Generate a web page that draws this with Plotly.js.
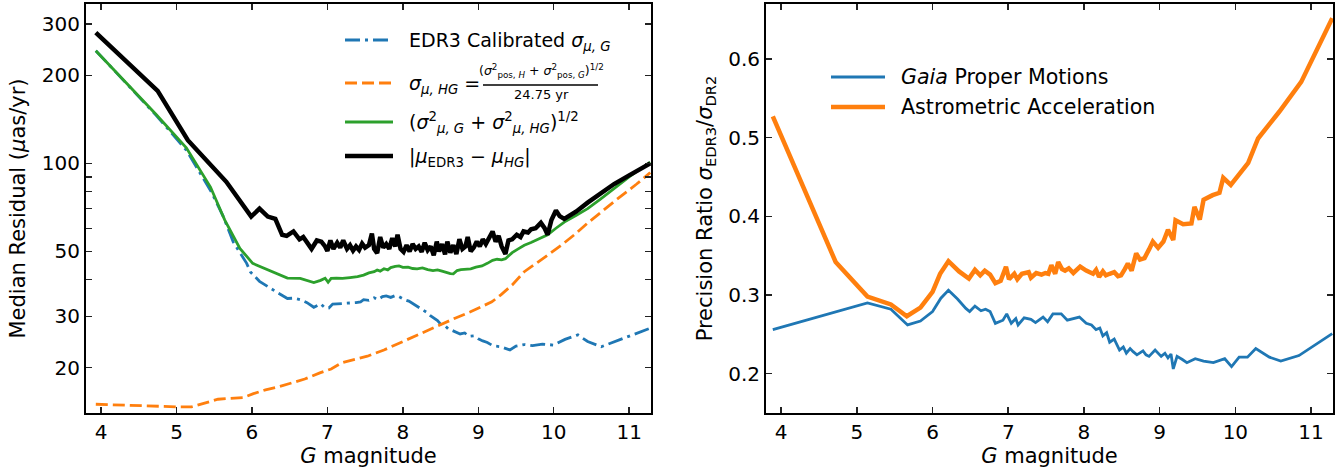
<!DOCTYPE html>
<html>
<head>
<meta charset="utf-8">
<script src="https://cdn.plot.ly/plotly-3.0.1.min.js"></script>
<style>html,body{margin:0;padding:0;background:#fff;}#chart{width:1343px;height:470px;}</style>
</head>
<body>
<div id="chart"></div>
<script>
// ---------- Left panel data (G magnitude vs median residual, µas/yr) ----------
const blackX = [3.93,4.75,5.15,5.66,5.99,6.10,6.21,6.31,6.40,6.46,6.55,6.63,6.68,6.74,6.79,6.86,6.92,6.97,7.00,7.04,7.08,7.13,7.17,7.21,7.26,7.30,7.34,7.38,7.42,7.46,7.50,7.55,7.59,7.62,7.66,7.70,7.74,7.78,7.82,7.86,7.90,7.93,7.97,8.01,8.05,8.09,8.13,8.17,8.21,8.25,8.29,8.33,8.37,8.41,8.45,8.48,8.52,8.56,8.59,8.63,8.67,8.71,8.75,8.79,8.83,8.86,8.90,8.94,8.98,9.02,9.06,9.10,9.15,9.19,9.23,9.27,9.31,9.36,9.40,9.45,9.51,9.56,9.60,9.66,9.70,9.76,9.83,9.88,9.92,9.97,10.03,10.08,10.14,10.30,10.45,10.62,10.80,11.00,11.28];
const blackY = [280,177,120,86.5,65.8,70,65.8,64.6,57,56.5,58.5,55,56,53,51,54.5,54,52,50.2,54.5,51,53.5,51.5,54.5,51,52.5,50.3,52,50.6,53.2,51.5,52.5,57.5,51,49.3,56,51.5,53,51,55.5,52,57,51,49.8,52.5,50,53,51,52,49.8,53.5,50.5,52,48.5,54,50,53,48.8,54,49.5,52.5,49,55,51,52,56,50,51.5,54,52,55,53,56.5,58.5,54,56.5,52,49,54.5,55,57,56,58.5,58,59.5,60,62.6,60,57,64,69,66,64.6,68.5,73.4,78.5,85,91,100];

const greenX = [3.93,4.73,5.13,5.45,5.64,5.84,6.01,6.20,6.47,6.64,6.73,6.82,6.91,6.97,7.01,7.05,7.12,7.20,7.30,7.40,7.48,7.55,7.62,7.66,7.70,7.75,7.80,7.84,7.90,7.95,8.00,8.07,8.13,8.19,8.26,8.33,8.40,8.46,8.52,8.57,8.63,8.67,8.72,8.77,8.84,8.90,8.97,9.05,9.12,9.19,9.25,9.31,9.36,9.45,9.53,9.61,9.70,9.79,9.86,9.92,10.03,10.14,10.30,10.45,10.62,10.80,11.00,11.28];
const greenY = [243,147,113,83,64,51.2,45.5,43.3,40.5,40.4,39.8,39.1,39.8,40.5,39.2,40.4,40.5,40.4,40.7,41.0,41.5,42.2,42.6,43.2,42.8,43.6,43.2,44.0,44.4,44.6,44.1,44.2,43.7,43.6,43.9,43.3,43.0,43.2,42.8,42.4,42.0,41.9,43.0,43.3,43.5,43.6,44.2,44.6,45.5,46.6,47,46.8,47.2,49.5,51,52.5,53.6,55,56,57,60,63,66.5,70,75.5,82,90,101];

const blueX = [3.93,4.73,5.13,5.46,5.62,5.75,5.93,5.98,6.10,6.24,6.35,6.47,6.56,6.64,6.73,6.82,6.88,6.91,6.96,7.02,7.07,7.12,7.20,7.30,7.38,7.44,7.48,7.55,7.62,7.67,7.73,7.78,7.84,7.90,7.95,8.02,8.08,8.14,8.19,8.25,8.31,8.36,8.41,8.46,8.50,8.55,8.60,8.64,8.70,8.76,8.82,8.88,8.94,9.00,9.06,9.12,9.18,9.23,9.30,9.36,9.42,9.50,9.61,9.72,9.85,10.00,10.15,10.32,10.45,10.63,10.85,11.05,11.28];
const blueY = [243,146,111,80,65.8,54,45.5,42.5,39.5,37.4,36,34.5,34.6,34.2,33.4,32.2,32.8,33.1,32.2,32.0,33.0,33.1,33.2,33.3,33.4,33.6,34.2,34.0,34.7,34.2,35.0,35.2,34.8,35.3,35.0,34.2,33.8,33.0,32.5,31.8,31.0,30.2,29.5,29.0,28.2,28.0,27.2,26.9,26.5,26.1,26.3,25.6,25.7,25.1,24.7,24.4,23.9,23.7,23.6,23.3,23.0,23.7,24.0,23.8,24.1,23.9,25.0,25.9,24.6,23.6,24.8,26.0,27.3];

const orangeX = [3.93,4.50,5.00,5.20,5.40,5.55,5.69,5.88,6.02,6.18,6.35,6.52,6.70,6.90,7.05,7.19,7.35,7.53,7.75,7.97,8.15,8.31,8.43,8.55,8.70,8.89,9.05,9.18,9.30,9.45,9.61,9.77,9.92,10.10,10.27,10.45,10.63,10.80,10.94,11.10,11.28];
const orangeY = [15.0,14.8,14.7,14.7,15.2,15.6,15.7,15.8,16.3,16.8,17.2,17.7,18.3,19.2,19.8,20.8,21.3,21.9,23.0,24.4,25.6,26.8,27.6,28.6,29.6,31.0,32.4,33.6,35.5,38.4,42.6,45.5,48.5,52.5,56.9,62.5,68.4,74,79,85,93];

// ---------- Right panel data (precision ratio) ----------
const pmX = [3.89,5.14,5.45,5.67,5.84,6.00,6.11,6.21,6.33,6.44,6.49,6.56,6.64,6.70,6.76,6.83,6.93,6.98,7.04,7.10,7.13,7.21,7.30,7.36,7.46,7.52,7.59,7.70,7.78,7.85,7.94,8.03,8.10,8.16,8.21,8.25,8.30,8.34,8.40,8.47,8.52,8.56,8.61,8.65,8.70,8.78,8.82,8.86,8.94,9.02,9.07,9.11,9.15,9.18,9.23,9.30,9.36,9.47,9.58,9.71,9.86,9.95,10.05,10.16,10.27,10.45,10.60,10.84,11.28];
const pmY = [0.256,0.290,0.282,0.262,0.267,0.279,0.296,0.306,0.295,0.283,0.279,0.286,0.280,0.282,0.279,0.264,0.268,0.276,0.264,0.270,0.262,0.271,0.269,0.265,0.272,0.266,0.276,0.276,0.268,0.270,0.272,0.264,0.262,0.256,0.258,0.248,0.252,0.240,0.244,0.230,0.234,0.226,0.232,0.228,0.224,0.229,0.224,0.222,0.230,0.222,0.226,0.220,0.225,0.206,0.222,0.218,0.214,0.219,0.216,0.214,0.219,0.209,0.221,0.221,0.232,0.221,0.216,0.223,0.251];

const accX = [3.89,4.72,5.14,5.45,5.66,5.84,6.00,6.10,6.21,6.35,6.48,6.56,6.63,6.69,6.76,6.83,6.90,6.97,7.01,7.08,7.12,7.18,7.27,7.30,7.37,7.44,7.49,7.53,7.57,7.62,7.66,7.71,7.75,7.80,7.86,7.95,8.03,8.12,8.16,8.20,8.25,8.29,8.34,8.40,8.45,8.49,8.54,8.58,8.63,8.69,8.74,8.80,8.86,8.91,8.98,9.05,9.11,9.18,9.21,9.31,9.42,9.46,9.53,9.58,9.70,9.79,9.84,9.94,10.17,10.30,10.58,10.87,11.28];
const accY = [0.527,0.342,0.298,0.288,0.273,0.284,0.304,0.327,0.343,0.330,0.321,0.332,0.325,0.331,0.326,0.315,0.318,0.336,0.320,0.327,0.320,0.327,0.329,0.322,0.328,0.326,0.328,0.327,0.338,0.327,0.342,0.333,0.331,0.334,0.328,0.336,0.331,0.327,0.332,0.323,0.330,0.325,0.327,0.329,0.324,0.325,0.333,0.340,0.331,0.353,0.345,0.347,0.358,0.368,0.360,0.368,0.383,0.370,0.395,0.390,0.391,0.412,0.396,0.421,0.427,0.430,0.449,0.440,0.468,0.499,0.533,0.571,0.652];

// ---------- Tick labels ----------
const xTicks = [4,5,6,7,8,9,10,11];
const leftTickVals = [20,30,50,100,200,300];
const leftTickText = ['20','30','50','100','200','300'];
const leftMinorVals = [40,60,70,80,90];
const rightTickVals = [0.2,0.3,0.4,0.5,0.6];
const rightTickText = ['0.2','0.3','0.4','0.5','0.6'];

const FONT = 'DejaVu Sans, Liberation Sans, sans-serif';
const C_BLUE = '#1f77b4', C_ORANGE = '#ff7f0e', C_GREEN = '#2ca02c';

const traces = [
  {x: blueX, y: blueY, xaxis:'x', yaxis:'y', mode:'lines', name:'EDR3 Calibrated σμ,G',
   line:{color:C_BLUE, width:2.8, dash:'15px,5px,3px,5px'}, showlegend:false},
  {x: orangeX, y: orangeY, xaxis:'x', yaxis:'y', mode:'lines', name:'σμ,HG',
   line:{color:C_ORANGE, width:2.8, dash:'12px,5px'}, showlegend:false},
  {x: greenX, y: greenY, xaxis:'x', yaxis:'y', mode:'lines', name:'(σ²μ,G+σ²μ,HG)^1/2',
   line:{color:C_GREEN, width:2.8}, showlegend:false},
  {x: blackX, y: blackY, xaxis:'x', yaxis:'y', mode:'lines', name:'|μEDR3 − μHG|',
   line:{color:'#000', width:4.5}, showlegend:false},
  {x: pmX, y: pmY, xaxis:'x2', yaxis:'y2', mode:'lines', name:'Gaia Proper Motions',
   line:{color:C_BLUE, width:2.8}, showlegend:false},
  {x: accX, y: accY, xaxis:'x2', yaxis:'y2', mode:'lines', name:'Astrometric Acceleration',
   line:{color:C_ORANGE, width:4.5}, showlegend:false}
];

// page geometry helpers (for legend placement only)
const W = 1343, H = 470, ML = 86, MR = 10, MT = 4, MB = 57;
const PW = W - ML - MR, PH = H - MT - MB;
const px = v => (v - ML) / PW;
const py = v => (H - MB - v) / PH;

const axCommon = {
  showline:true, linecolor:'#000', linewidth:2, mirror:'ticks',
  ticks:'inside', ticklen:6, tickwidth:1.5, tickcolor:'#222',
  showgrid:false, zeroline:false,
  tickfont:{family:FONT, size:20, color:'#000'}
};

function legLine(x0, x1, y, color, width, dash) {
  return {type:'line', xref:'paper', yref:'paper', x0:px(x0), x1:px(x1), y0:py(y), y1:py(y),
          line:{color:color, width:width, dash:dash || 'solid'}};
}
function legText(x, y, text, size, anchor) {
  return {xref:'paper', yref:'paper', x:px(x), y:py(y), text:text, showarrow:false,
          xanchor:anchor || 'left', yanchor:'middle', borderpad:0,
          font:{family:FONT, size:size, color:'#000'}};
}

const layout = {
  width:W, height:H,
  margin:{l:ML, r:MR, t:MT, b:MB},
  paper_bgcolor:'#fff', plot_bgcolor:'#fff',
  showlegend:false,
  font:{family:FONT, color:'#000'},
  xaxis: Object.assign({}, axCommon, {domain:[0, (651-ML)/PW], range:[3.8, 11.29], tickvals:xTicks,
    title:{text:'<i>G</i> magnitude', font:{family:FONT, size:21}, standoff:5}}),
  yaxis: Object.assign({}, axCommon, {type:'log', range:[Math.log10(14.0), Math.log10(351)],
    tickvals:leftTickVals, ticktext:leftTickText,
    minor:{tickmode:'array', tickvals:leftMinorVals, ticks:'inside', ticklen:6, tickwidth:1.5, tickcolor:'#222', showgrid:false},
    title:{text:'Median Residual (<i>μ</i>as/yr)', font:{family:FONT, size:21}, standoff:10}}),
  xaxis2: Object.assign({}, axCommon, {domain:[(766-ML)/PW, 1], range:[3.8, 11.29], tickvals:xTicks, anchor:'y2',
    title:{text:'<i>G</i> magnitude', font:{family:FONT, size:21}, standoff:5}}),
  yaxis2: Object.assign({}, axCommon, {anchor:'x2', range:[0.15, 0.67], tickvals:rightTickVals,
    ticktext:rightTickText,
    title:{text:'Precision Ratio <i>σ</i><sub>EDR3</sub>/<i>σ</i><sub>DR2</sub>', font:{family:FONT, size:21}, standoff:10}}),
  shapes:[
    legLine(345, 393, 40, C_BLUE, 2.8, '15px,5px,3px,5px'),
    legLine(345, 393, 83, C_ORANGE, 2.8, '12px,5px'),
    legLine(345, 393, 122, C_GREEN, 2.8),
    legLine(345, 393, 156, '#000', 4.5),
    {type:'line', xref:'paper', yref:'paper', x0:px(483), x1:px(598), y0:py(85), y1:py(85), line:{color:'#000', width:1.5}},
    legLine(831, 885, 77, C_BLUE, 2.8),
    legLine(831, 885, 107, C_ORANGE, 4.5)
  ],
  annotations:[
    legText(408, 41, 'EDR3 Calibrated <i>σ</i><sub><i>μ, G</i></sub>', 19),
    legText(408, 84, '<i>σ</i><sub><i>μ, HG</i></sub> =', 19),
    legText(541, 71, '(<i>σ</i><sup>2</sup><sub>pos, <i>H</i></sub> + <i>σ</i><sup>2</sup><sub>pos, <i>G</i></sub>)<sup>1/2</sup>', 12.5, 'center'),
    legText(541, 95, '24.75 yr', 13, 'center'),
    legText(408, 122, '(<i>σ</i><sup>2</sup><sub><i>μ, G</i></sub> + <i>σ</i><sup>2</sup><sub><i>μ, HG</i></sub>)<sup>1/2</sup>', 19),
    legText(408, 157, '|<i>μ</i><sub>EDR3</sub> − <i>μ</i><sub><i>HG</i></sub>|', 19),
    legText(900, 77, '<i>Gaia</i> Proper Motions', 20.6),
    legText(900, 107, 'Astrometric Acceleration', 20.6)
  ]
};

Plotly.newPlot('chart', traces, layout, {displayModeBar:false, staticPlot:true});
</script>
</body>
</html>
